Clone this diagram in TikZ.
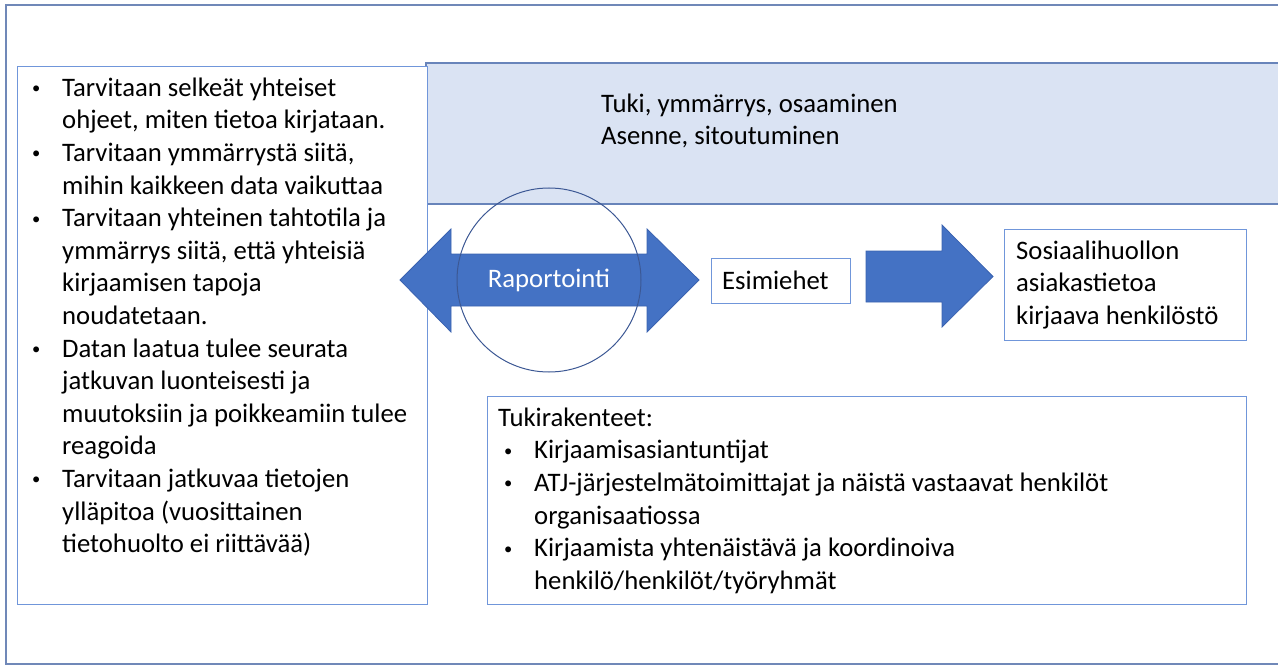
\documentclass[tikz,border=0pt]{standalone}
\usepackage{fontspec}
\setmainfont{Carlito}
\usetikzlibrary{calc}

\definecolor{framecol}{RGB}{112,136,184}
\definecolor{boxcol}{RGB}{112,150,218}
\definecolor{bandfill}{RGB}{218,227,243}
\definecolor{bandline}{RGB}{104,132,186}
\definecolor{arrowcol}{RGB}{68,114,196}
\definecolor{arrowedge}{RGB}{58,98,176}
\definecolor{ringcol}{RGB}{60,88,148}

\newcommand{\smallbul}{\raisebox{2.6pt}{\scalebox{0.62}{\textbullet}}}
\newcommand{\bl}[2][0pt]{\strut\hspace*{#1}\makebox[31pt][l]{\hspace*{1pt}\smallbul}#2}
\newcommand{\cl}[2][0pt]{\strut\hspace*{\dimexpr#1+31pt\relax}#2}

\begin{document}
\begin{tikzpicture}[x=1pt, y=-1pt,
	txt/.style={inner sep=0pt, align=left, anchor=north west, font=\fontsize{26.7}{32.6}\selectfont},
	box/.style={draw=boxcol, line width=1.3pt, fill=white, anchor=north west, inner sep=0pt}]
	\useasboundingbox (0,0) rectangle (1278,666);
	\clip (0,0) rectangle (1278,666);
	% frame and band
	\draw [framecol, line width=1.5pt] (1290,5) -- (6,5) -- (6,664) -- (1290,664);
	\draw [bandline, line width=1.5pt, fill=bandfill] (426,63) rectangle (1290,204);
	\node (support) [txt] at (601,89.2) {\strut Tuki, ymmärrys, osaaminen\\
		\strut Asenne, sitoutuminen};
	% left list
	\node (needsbox) [box, minimum width=410pt, minimum height=538pt] at (17,66) {};
	\node (needs) [txt] at (31,73.2) {\bl{Tarvitaan selkeät yhteiset}\\
		\cl{ohjeet, miten tietoa kirjataan.}\\
		\bl{Tarvitaan ymmärrystä siitä,}\\
		\cl{mihin kaikkeen data vaikuttaa}\\
		\bl{Tarvitaan yhteinen tahtotila ja}\\
		\cl{ymmärrys siitä, että yhteisiä}\\
		\cl{kirjaamisen tapoja}\\
		\cl{noudatetaan.}\\
		\bl{Datan laatua tulee seurata}\\
		\cl{jatkuvan luonteisesti ja}\\
		\cl{muutoksiin ja poikkeamiin tulee}\\
		\cl{reagoida}\\
		\bl{Tarvitaan jatkuvaa tietojen}\\
		\cl{ylläpitoa (vuosittainen}\\
		\cl{tietohuolto ei riittävää)}};
	% arrows
	\fill [arrowcol, draw=arrowedge, line width=0.8pt] (400,280) -- (451,229) -- (451,254) -- (647,254)
		-- (647,229) -- (699,280) -- (647,332) -- (647,306) -- (451,306) -- (451,332) -- cycle;
	\node (report) [txt, anchor=center, text=white] at (549,280) {Raportointi};
	\fill [arrowcol, draw=arrowedge, line width=0.8pt] (866,251) -- (942,251) -- (942,225) -- (993,276.5)
		-- (942,327) -- (942,302) -- (866,302) -- cycle;
	\draw [ringcol, line width=1pt] (549,280) circle (92);
	% boxes
	\node (bossbox) [box, minimum width=139pt, minimum height=45pt] at (711,258) {};
	\node (boss) [txt, anchor=west] at (722,280.5) {Esimiehet};
	\node (staffbox) [box, minimum width=242pt, minimum height=111pt] at (1004,229) {};
	\node (staff) [txt] at (1016,236.2) {\strut Sosiaalihuollon\\
		\strut asiakastietoa\\
		\strut kirjaava henkilöstö};
	\node (structbox) [box, minimum width=759pt, minimum height=208pt] at (487,396) {};
	\node (struct) [txt] at (498,403.2) {\strut Tukirakenteet:\\
		\bl[5pt]{Kirjaamisasiantuntijat}\\
		\bl[5pt]{ATJ-järjestelmätoimittajat ja näistä vastaavat henkilöt}\\
		\cl[5pt]{organisaatiossa}\\
		\bl[5pt]{Kirjaamista yhtenäistävä ja koordinoiva}\\
		\cl[5pt]{henkilö/henkilöt/työryhmät}};
\end{tikzpicture}
\end{document}
